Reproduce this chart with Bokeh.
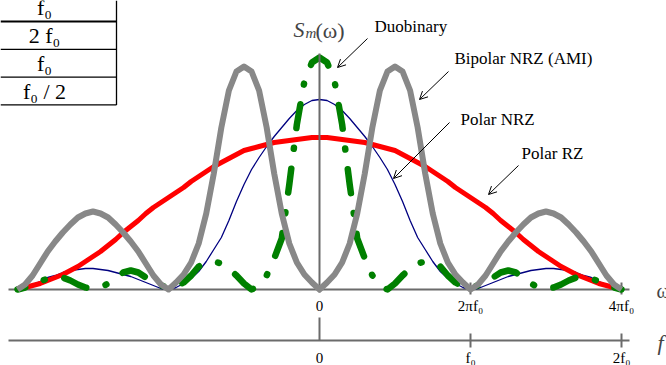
import numpy as np
from bokeh.plotting import figure
from bokeh.models import Range1d, Label, Arrow, OpenHead
from bokeh.embed import file_html
from bokeh.resources import INLINE
from bokeh.core.properties import value

# ---------------- data ----------------
# frequency in units of f0 (omega in units of 2*pi*f0)
u = [round(-2 + 0.05 * i, 2) for i in range(81)]

# PSD values (arbitrary units), u = -2 ... 2
bipolar_ami = [0, 5, 14, 26, 38, 48, 57, 65, 72, 76, 78, 76, 72, 65, 57, 48, 38, 26, 14, 5,
               0, 7, 15, 27, 46, 76, 116, 162, 199, 218, 223, 218, 199, 162, 116, 76, 46, 27, 15, 7,
               0,
               7, 15, 27, 46, 76, 116, 162, 199, 218, 223, 218, 199, 162, 116, 76, 46, 27, 15, 7, 0,
               5, 14, 26, 38, 48, 57, 65, 72, 76, 78, 76, 72, 65, 57, 48, 38, 26, 14, 5, 0]
polar_nrz = [0, 2, 5, 8, 12, 14, 17, 19, 20, 21, 21, 20, 19, 17, 15, 13, 10, 7, 4, 1,
             0, 2, 6, 11, 18, 28, 40, 52, 69, 88, 105, 120, 132, 143, 153, 162, 171, 179, 185, 189,
             190,
             189, 185, 179, 171, 162, 153, 143, 132, 120, 105, 88, 69, 52, 40, 28, 18, 11, 6, 2, 0,
             1, 4, 7, 10, 13, 15, 17, 19, 20, 21, 21, 20, 19, 17, 14, 12, 8, 5, 2, 0]
polar_rz = [0, 2, 4, 6, 9, 12, 15, 19, 23, 28, 33, 38, 44, 50, 57, 63, 69, 76, 82, 87,
            92, 97, 102, 108, 113, 118, 123, 127, 131, 135, 139, 141, 143, 145, 147, 148, 149, 150, 151, 152,
            152,
            152, 151, 150, 149, 148, 147, 145, 143, 141, 139, 135, 131, 127, 123, 118, 113, 108, 102, 97, 92,
            87, 82, 76, 69, 63, 57, 50, 44, 38, 33, 28, 23, 19, 15, 12, 9, 6, 4, 2, 0]
duobinary = [0, 2, 5, 8, 11, 12, 12, 9, 5, 2, 1, 2, 6, 12, 17, 19, 17, 12, 7, 4,
             2, 3, 7, 14, 23, 27, 28, 26, 21, 14, 6, 0, 4, 14, 31, 51, 105, 165, 208, 227,
             232,
             227, 208, 165, 105, 51, 31, 14, 4, 0, 6, 14, 21, 26, 28, 27, 23, 14, 7, 3, 2,
             4, 7, 12, 17, 19, 17, 12, 6, 2, 1, 2, 5, 9, 12, 12, 11, 8, 5, 2, 0]

omega_ticks = [0, 1, 2]
omega_labels = ["0", "2πf₀", "4πf₀"]
f_ticks = [0, 1, 2]
f_labels = ["0", "f₀", "2f₀"]

table_values = ["f₀", "2 f₀", "f₀", "f₀ / 2"]

# ---------------- layout helpers (page pixels -> data) ----------------
PX0, PXU, PY0 = 319.0, 151.0, 289.0
def X(px):
    return (px - PX0) / PXU
def Y(py):
    return PY0 - py

SERIF = "Liberation Serif"

p = figure(width=666, height=365,
           x_range=Range1d(X(0), X(666)), y_range=Range1d(Y(365), Y(0)),
           output_backend="svg", toolbar_location=None,
           x_axis_location=None, y_axis_location=None,
           min_border=0, outline_line_color=None)
p.xgrid.visible = False
p.ygrid.visible = False
p.background_fill_color = "white"
p.border_fill_color = "white"

AX = "#6b6b6b"
# horizontal axes
p.segment(x0=[X(8), X(8)], y0=[0, Y(340)], x1=[X(629), X(629)], y1=[0, Y(340)],
          line_color=AX, line_width=2)
# ticks
p.segment(x0=omega_ticks[1:], y0=[7] * 2, x1=omega_ticks[1:], y1=[-5] * 2, line_color=AX, line_width=2)
p.segment(x0=f_ticks[1:], y0=[Y(333)] * 2, x1=f_ticks[1:], y1=[Y(347)] * 2, line_color=AX, line_width=2)

# curves
p.line(u, polar_nrz, line_color="#000080", line_width=1.3, line_join="round")
p.line(u, polar_rz, line_color="#ff0000", line_width=5, line_join="round")

# duobinary dash-dot, phase set so a dash is centred at 0
D, G = 24, 20
P = D + G + 1 + G
ux = np.array(u) * PXU
uy = np.array(duobinary, dtype=float)
L = float(np.sum(np.hypot(np.diff(ux[:41]), np.diff(uy[:41]))))
offset = int(round((D / 2 - L) % P))
p.line(u, duobinary, line_color="#008000", line_width=6.5, line_cap="round", line_join="round",
       line_dash=f"{D} {G} 1 {G}", line_dash_offset=offset)

# vertical axis
p.segment(x0=[0, 0], y0=[Y(53), Y(317)], x1=[0, 0], y1=[-3, Y(340)], line_color=AX, line_width=2)

p.line(u, bipolar_ami, line_color="#888888", line_width=6, line_join="round")

# tick labels
p.text(x=omega_ticks, y=[Y(305)] * 3, text=omega_labels, text_font=value(SERIF),
       text_font_size="15px", text_align="center", text_baseline="middle", text_color="black")
p.text(x=f_ticks, y=[Y(357)] * 3, text=f_labels, text_font=value(SERIF),
       text_font_size="15px", text_align="center", text_baseline="middle", text_color="black")

# table fragment at top-left
row_h = 27.8
line_ys = [Y(21 + row_h * k) for k in range(4)]
p.segment(x0=[X(0)] * 4, y0=line_ys, x1=[X(116)] * 4, y1=line_ys, line_color="black",
          line_width=[2, 1.3, 1.3, 1.3])
p.segment(x0=[X(116)], y0=[Y(0)], x1=[X(116)], y1=[Y(21 + row_h * 3)], line_color="black", line_width=1.3)
p.text(x=[X(44)] * 4, y=[Y(21 + row_h * (k - 0.5)) for k in range(4)], text=table_values,
       text_font=value(SERIF), text_font_size="22px", text_align="center", text_baseline="middle",
       text_color="black")

# axis titles
p.add_layout(Label(x=X(293), y=Y(29), text="S", text_font=SERIF, text_font_style="italic",
                   text_font_size="22px", text_baseline="alphabetic"))
p.add_layout(Label(x=X(305), y=Y(32), text="m", text_font=SERIF, text_font_style="italic",
                   text_font_size="15px", text_baseline="alphabetic"))
p.add_layout(Label(x=X(315), y=Y(30), text="(ω)", text_font=SERIF,
                   text_font_size="22px", text_baseline="alphabetic"))
p.add_layout(Label(x=X(656), y=Y(290), text="ω", text_font=SERIF,
                   text_font_size="20px", text_baseline="middle"))
p.add_layout(Label(x=X(657), y=Y(342), text="f", text_font=SERIF, text_font_style="italic",
                   text_font_size="22px", text_baseline="middle"))

# curve annotations
notes = [("Duobinary", 374, 26, (367, 38), (337, 67)),
         ("Bipolar NRZ (AMI)", 454, 58, (448, 71), (419, 99)),
         ("Polar NRZ", 460, 119, (449, 122), (393, 178)),
         ("Polar RZ", 521, 153, (518, 165), (488, 194))]
for txt, lx, ly, (sx, sy), (ex, ey) in notes:
    p.add_layout(Label(x=X(lx), y=Y(ly), text=txt, text_font=SERIF, text_font_size="17px",
                       text_baseline="middle", text_color="black"))
    p.add_layout(Arrow(x_start=X(sx), y_start=Y(sy), x_end=X(ex), y_end=Y(ey),
                       line_color="black", line_width=1,
                       end=OpenHead(size=8, line_width=1, line_color="black")))

open("out.html", "w").write(file_html(p, INLINE))
